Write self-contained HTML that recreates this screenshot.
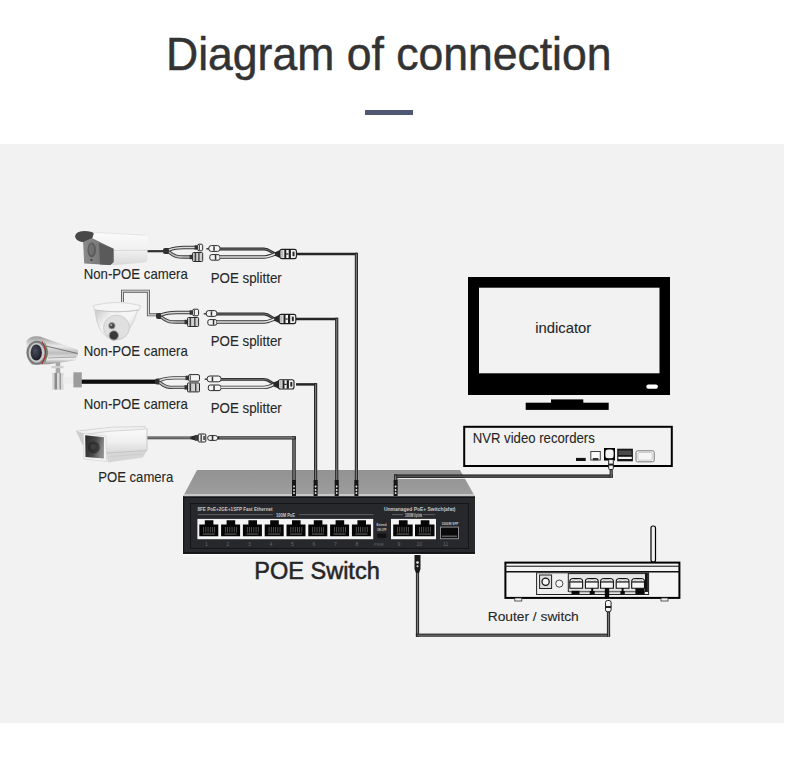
<!DOCTYPE html>
<html><head><meta charset="utf-8">
<style>
html,body{margin:0;padding:0;background:#fff;width:790px;height:759px;overflow:hidden}
svg{position:absolute;left:0;top:0;display:block}
text{font-family:"Liberation Sans",sans-serif}
</style></head>
<body>
<svg width="790" height="759" viewBox="0 0 790 759">
<defs>
  <linearGradient id="swTop" x1="0" y1="0" x2="0" y2="1">
    <stop offset="0" stop-color="#929292"/><stop offset="1" stop-color="#9e9e9e"/>
  </linearGradient>
</defs>
<rect x="0" y="0" width="790" height="759" fill="#fff"/>
<rect x="0" y="144" width="784" height="579" fill="#f2f2f2"/>

<text x="166" y="69.5" font-size="46.5" fill="#333" stroke="#333" stroke-width="0.5" textLength="445.5" lengthAdjust="spacingAndGlyphs">Diagram of connection</text>
<rect x="365" y="110" width="48" height="5" fill="#4e5873"/>
<rect x="468" y="277" width="202" height="118" fill="#000"/>
<rect x="479" y="287.7" width="180.5" height="85.6" fill="#f2f2f2"/>
<rect x="646.3" y="384.4" width="11.6" height="4.3" rx="2" fill="#fff"/>
<rect x="551" y="399.4" width="32.3" height="3.6" fill="#000"/>
<rect x="525.7" y="402.7" width="83" height="7.2" fill="#000"/>
<rect x="464.2" y="426.8" width="207.6" height="39.2" fill="none" stroke="#000" stroke-width="2"/>
<rect x="576" y="457.9" width="9.7" height="3.1" fill="#111"/>
<rect x="590.8" y="451.5" width="9.5" height="8.5" fill="#fafafa" stroke="#444" stroke-width="1"/><rect x="592.8" y="458" width="5.5" height="2.3" fill="#333"/>
<rect x="604" y="448" width="11" height="12.5" fill="#000"/>
<rect x="605.4" y="449.6" width="8.2" height="8.6" rx="2.5" fill="#f4f4f4"/>
<rect x="617.2" y="448.7" width="15.7" height="12.6" fill="#161616"/>
<rect x="618.5" y="450.5" width="13" height="4.5" fill="#4a4a4a"/>
<rect x="618.3" y="456.8" width="13.5" height="2.2" fill="#f2f2f2"/>
<rect x="636" y="450.8" width="18.2" height="11" rx="1.5" fill="#f6f6f6" stroke="#777" stroke-width="1"/>
<rect x="638" y="452.5" width="14.2" height="7.6" rx="1" fill="none" stroke="#bbb" stroke-width="0.7"/>
<polygon points="197,470 460,470 475,496.5 183,496.5" fill="url(#swTop)"/>
<rect x="184" y="494" width="290" height="2.5" fill="#c8c8c8"/>
<rect x="183" y="496.5" width="292" height="57.3" fill="#27292d"/><rect x="183" y="552.3" width="292" height="1.5" fill="#0d0e10"/><rect x="183" y="496.5" width="1.2" height="57.3" fill="#151618"/><rect x="183" y="554" width="292" height="1.5" fill="#fbfbfb"/>
<rect x="183" y="496.5" width="292" height="1.5" fill="#151618"/>
<rect x="190.5" y="503.5" width="278" height="45" fill="#26282c" stroke="#141517" stroke-width="1"/>
<rect x="197.4" y="518.9" width="175.8" height="20.3" fill="#f4f4f4"/>
<rect x="391" y="518.9" width="45" height="20.3" fill="#f4f4f4"/>
<path d="M199.3 524.6 H204.8 V520.3 H213.4 V524.6 H218.3 V536.2 H199.3 Z" fill="#050505"/><rect x="203.3" y="527" width="0.7" height="5.5" fill="#6a6a6a"/><rect x="205.5" y="527" width="0.7" height="5.5" fill="#6a6a6a"/><rect x="207.7" y="527" width="0.7" height="5.5" fill="#6a6a6a"/><rect x="209.9" y="527" width="0.7" height="5.5" fill="#6a6a6a"/><rect x="212.1" y="527" width="0.7" height="5.5" fill="#6a6a6a"/><rect x="214.3" y="527" width="0.7" height="5.5" fill="#6a6a6a"/><rect x="202.8" y="533.6" width="12.0" height="0.9" fill="#777"/>
<path d="M221.1 524.6 H226.6 V520.3 H235.2 V524.6 H240.1 V536.2 H221.1 Z" fill="#050505"/><rect x="225.1" y="527" width="0.7" height="5.5" fill="#6a6a6a"/><rect x="227.3" y="527" width="0.7" height="5.5" fill="#6a6a6a"/><rect x="229.5" y="527" width="0.7" height="5.5" fill="#6a6a6a"/><rect x="231.7" y="527" width="0.7" height="5.5" fill="#6a6a6a"/><rect x="233.9" y="527" width="0.7" height="5.5" fill="#6a6a6a"/><rect x="236.1" y="527" width="0.7" height="5.5" fill="#6a6a6a"/><rect x="224.6" y="533.6" width="12.0" height="0.9" fill="#777"/>
<path d="M242.9 524.6 H248.4 V520.3 H257.0 V524.6 H261.9 V536.2 H242.9 Z" fill="#050505"/><rect x="246.9" y="527" width="0.7" height="5.5" fill="#6a6a6a"/><rect x="249.1" y="527" width="0.7" height="5.5" fill="#6a6a6a"/><rect x="251.3" y="527" width="0.7" height="5.5" fill="#6a6a6a"/><rect x="253.5" y="527" width="0.7" height="5.5" fill="#6a6a6a"/><rect x="255.7" y="527" width="0.7" height="5.5" fill="#6a6a6a"/><rect x="257.9" y="527" width="0.7" height="5.5" fill="#6a6a6a"/><rect x="246.4" y="533.6" width="12.0" height="0.9" fill="#777"/>
<path d="M264.7 524.6 H270.2 V520.3 H278.8 V524.6 H283.7 V536.2 H264.7 Z" fill="#050505"/><rect x="268.7" y="527" width="0.7" height="5.5" fill="#6a6a6a"/><rect x="270.9" y="527" width="0.7" height="5.5" fill="#6a6a6a"/><rect x="273.1" y="527" width="0.7" height="5.5" fill="#6a6a6a"/><rect x="275.3" y="527" width="0.7" height="5.5" fill="#6a6a6a"/><rect x="277.5" y="527" width="0.7" height="5.5" fill="#6a6a6a"/><rect x="279.7" y="527" width="0.7" height="5.5" fill="#6a6a6a"/><rect x="268.2" y="533.6" width="12.0" height="0.9" fill="#777"/>
<path d="M286.5 524.6 H292.0 V520.3 H300.6 V524.6 H305.5 V536.2 H286.5 Z" fill="#050505"/><rect x="290.5" y="527" width="0.7" height="5.5" fill="#6a6a6a"/><rect x="292.7" y="527" width="0.7" height="5.5" fill="#6a6a6a"/><rect x="294.9" y="527" width="0.7" height="5.5" fill="#6a6a6a"/><rect x="297.1" y="527" width="0.7" height="5.5" fill="#6a6a6a"/><rect x="299.3" y="527" width="0.7" height="5.5" fill="#6a6a6a"/><rect x="301.5" y="527" width="0.7" height="5.5" fill="#6a6a6a"/><rect x="290.0" y="533.6" width="12.0" height="0.9" fill="#777"/>
<path d="M308.3 524.6 H313.8 V520.3 H322.4 V524.6 H327.3 V536.2 H308.3 Z" fill="#050505"/><rect x="312.3" y="527" width="0.7" height="5.5" fill="#6a6a6a"/><rect x="314.5" y="527" width="0.7" height="5.5" fill="#6a6a6a"/><rect x="316.7" y="527" width="0.7" height="5.5" fill="#6a6a6a"/><rect x="318.9" y="527" width="0.7" height="5.5" fill="#6a6a6a"/><rect x="321.1" y="527" width="0.7" height="5.5" fill="#6a6a6a"/><rect x="323.3" y="527" width="0.7" height="5.5" fill="#6a6a6a"/><rect x="311.8" y="533.6" width="12.0" height="0.9" fill="#777"/>
<path d="M330.1 524.6 H335.6 V520.3 H344.2 V524.6 H349.1 V536.2 H330.1 Z" fill="#050505"/><rect x="334.1" y="527" width="0.7" height="5.5" fill="#6a6a6a"/><rect x="336.3" y="527" width="0.7" height="5.5" fill="#6a6a6a"/><rect x="338.5" y="527" width="0.7" height="5.5" fill="#6a6a6a"/><rect x="340.7" y="527" width="0.7" height="5.5" fill="#6a6a6a"/><rect x="342.9" y="527" width="0.7" height="5.5" fill="#6a6a6a"/><rect x="345.1" y="527" width="0.7" height="5.5" fill="#6a6a6a"/><rect x="333.6" y="533.6" width="12.0" height="0.9" fill="#777"/>
<path d="M351.9 524.6 H357.4 V520.3 H366.0 V524.6 H370.9 V536.2 H351.9 Z" fill="#050505"/><rect x="355.9" y="527" width="0.7" height="5.5" fill="#6a6a6a"/><rect x="358.1" y="527" width="0.7" height="5.5" fill="#6a6a6a"/><rect x="360.3" y="527" width="0.7" height="5.5" fill="#6a6a6a"/><rect x="362.5" y="527" width="0.7" height="5.5" fill="#6a6a6a"/><rect x="364.7" y="527" width="0.7" height="5.5" fill="#6a6a6a"/><rect x="366.9" y="527" width="0.7" height="5.5" fill="#6a6a6a"/><rect x="355.4" y="533.6" width="12.0" height="0.9" fill="#777"/>
<path d="M393.2 524.6 H398.9 V520.3 H407.6 V524.6 H412.7 V536.2 H393.2 Z" fill="#050505"/><rect x="397.2" y="527" width="0.7" height="5.5" fill="#6a6a6a"/><rect x="399.4" y="527" width="0.7" height="5.5" fill="#6a6a6a"/><rect x="401.6" y="527" width="0.7" height="5.5" fill="#6a6a6a"/><rect x="403.8" y="527" width="0.7" height="5.5" fill="#6a6a6a"/><rect x="406.0" y="527" width="0.7" height="5.5" fill="#6a6a6a"/><rect x="408.2" y="527" width="0.7" height="5.5" fill="#6a6a6a"/><rect x="396.7" y="533.6" width="12.5" height="0.9" fill="#777"/>
<path d="M415.0 524.6 H420.7 V520.3 H429.4 V524.6 H434.5 V536.2 H415.0 Z" fill="#050505"/><rect x="419.0" y="527" width="0.7" height="5.5" fill="#6a6a6a"/><rect x="421.2" y="527" width="0.7" height="5.5" fill="#6a6a6a"/><rect x="423.4" y="527" width="0.7" height="5.5" fill="#6a6a6a"/><rect x="425.6" y="527" width="0.7" height="5.5" fill="#6a6a6a"/><rect x="427.8" y="527" width="0.7" height="5.5" fill="#6a6a6a"/><rect x="430.0" y="527" width="0.7" height="5.5" fill="#6a6a6a"/><rect x="418.5" y="533.6" width="12.5" height="0.9" fill="#777"/>
<rect x="440" y="526.6" width="19" height="12.6" fill="#8c8c8c"/>
<rect x="441" y="527.6" width="17" height="10.6" fill="#0a0a0a"/>
<rect x="442" y="535.5" width="15" height="1.6" fill="#5a5a5a"/>
<g fill="#c9c9c9" font-size="5.6" font-weight="bold">
<text x="197.5" y="511.3" textLength="75" lengthAdjust="spacingAndGlyphs">8FE PoE+2GE+1SFP Fast Ethernet</text>
<text x="384" y="511.3" textLength="71.5" lengthAdjust="spacingAndGlyphs">Unmanaged PoE+ Switch(afat)</text>
<text x="276" y="516.8" font-size="4.6" textLength="19" lengthAdjust="spacingAndGlyphs">100M PoE</text>
<text x="405" y="516.8" font-size="4.6" textLength="17" lengthAdjust="spacingAndGlyphs">1000M Uplink</text>
<text x="441.5" y="524.5" font-size="4" textLength="17" lengthAdjust="spacingAndGlyphs">1000M SFP</text>
<text x="376.5" y="525.5" font-size="4.2" textLength="10" lengthAdjust="spacingAndGlyphs">Extend</text>
<text x="377" y="530.5" font-size="4.2" textLength="9.5" lengthAdjust="spacingAndGlyphs">ON OFF</text>
</g>
<rect x="377.3" y="533.5" width="9" height="4.5" rx="1" fill="#111"/>
<g fill="#66686c" font-size="5">
<text x="206.5" y="546" text-anchor="middle">1</text>
<text x="228.0" y="546" text-anchor="middle">2</text>
<text x="249.5" y="546" text-anchor="middle">3</text>
<text x="271.0" y="546" text-anchor="middle">4</text>
<text x="292.5" y="546" text-anchor="middle">5</text>
<text x="314.0" y="546" text-anchor="middle">6</text>
<text x="335.5" y="546" text-anchor="middle">7</text>
<text x="357.0" y="546" text-anchor="middle">8</text>
<text x="374" y="546" font-size="4.2">PWR</text>
<text x="398.8" y="546" text-anchor="middle">9</text><text x="419.3" y="546" text-anchor="middle">10</text><text x="445.7" y="546" text-anchor="middle">11</text>
</g>
<g stroke="#6a6c70" stroke-width="0.8">
<path d="M198 514.6 H273 M299 514.6 H373.5 M392 514.6 H403 M423 514.6 H435"/>
</g>
<rect x="505.4" y="562.6" width="174" height="35.3" fill="#f4f4f4" stroke="#000" stroke-width="2"/>
<rect x="505" y="565.7" width="175" height="1.1" fill="#222"/>
<rect x="505" y="571" width="175" height="1.5" fill="#111"/>
<rect x="514.8" y="598" width="7" height="3" fill="#f8f8f8" stroke="#333" stroke-width="0.8"/>
<rect x="661" y="598" width="7" height="3" fill="#f8f8f8" stroke="#333" stroke-width="0.8"/>
<rect x="536.6" y="572.8" width="112" height="21.7" fill="#f0f0f0" stroke="#222" stroke-width="1"/>
<rect x="539.6" y="575" width="12" height="13.5" fill="#ddd" stroke="#222" stroke-width="1"/>
<circle cx="545.6" cy="581.8" r="3.6" fill="#f6f6f6" stroke="#111" stroke-width="1.2"/>
<circle cx="559.3" cy="583.6" r="3.6" fill="#f6f6f6" stroke="#333" stroke-width="0.9"/>
<rect x="568.3" y="573.6" width="79.5" height="17.8" fill="#e6e6e6" stroke="#222" stroke-width="1"/>
<path d="M569.8 588.3 V581.5 Q569.8 578.5 573.3 578.5 H579.1 Q582.6 578.5 582.6 581.5 V588.3 Z" fill="#f6f6f6" stroke="#111" stroke-width="1.1"/>
<rect x="569.8" y="581.3" width="12.8" height="1.3" fill="#222"/>
<path d="M572.3 580.3 Q576.2 579 580.1 580.3" stroke="#888" stroke-width="0.7" fill="none"/>
<path d="M585.4 588.3 V581.5 Q585.4 578.5 588.9 578.5 H594.7 Q598.2 578.5 598.2 581.5 V588.3 Z" fill="#f6f6f6" stroke="#111" stroke-width="1.1"/>
<rect x="585.4" y="581.3" width="12.8" height="1.3" fill="#222"/>
<path d="M587.9 580.3 Q591.8 579 595.7 580.3" stroke="#888" stroke-width="0.7" fill="none"/>
<path d="M600.6 588.3 V581.5 Q600.6 578.5 604.1 578.5 H609.9 Q613.4 578.5 613.4 581.5 V588.3 Z" fill="#f6f6f6" stroke="#111" stroke-width="1.1"/>
<rect x="600.6" y="581.3" width="12.8" height="1.3" fill="#222"/>
<path d="M603.1 580.3 Q607.0 579 610.9 580.3" stroke="#888" stroke-width="0.7" fill="none"/>
<path d="M616.2 588.3 V581.5 Q616.2 578.5 619.7 578.5 H625.5 Q629.0 578.5 629.0 581.5 V588.3 Z" fill="#f6f6f6" stroke="#111" stroke-width="1.1"/>
<rect x="616.2" y="581.3" width="12.8" height="1.3" fill="#222"/>
<path d="M618.7 580.3 Q622.6 579 626.5 580.3" stroke="#888" stroke-width="0.7" fill="none"/>
<path d="M631.7 588.3 V581.5 Q631.7 578.5 635.2 578.5 H641.0 Q644.5 578.5 644.5 581.5 V588.3 Z" fill="#f6f6f6" stroke="#111" stroke-width="1.1"/>
<rect x="631.7" y="581.3" width="12.8" height="1.3" fill="#222"/>
<path d="M634.2 580.3 Q638.1 579 642.0 580.3" stroke="#888" stroke-width="0.7" fill="none"/>
<rect x="569" y="591.6" width="76" height="1.6" fill="#bdbdbd"/>
<rect x="571.5" y="590.8" width="8" height="3.5" fill="#0a0a0a"/>
<rect x="589.7" y="591" width="5" height="3.3" fill="#0a0a0a"/><rect x="591.2" y="588" width="2" height="3.3" fill="#0a0a0a"/>
<rect x="604.8" y="588" width="4.4" height="9" fill="#0a0a0a"/>
<rect x="620.4" y="591" width="4.4" height="3.3" fill="#0a0a0a"/><rect x="621.6" y="588" width="2" height="3.3" fill="#0a0a0a"/>
<rect x="635.4" y="588.3" width="9.2" height="6" fill="#0a0a0a"/>
<rect x="645" y="573.5" width="2.6" height="18" fill="#111"/>
<rect x="651" y="526" width="4.5" height="36" rx="2" fill="none" stroke="#000" stroke-width="1.2"/>
<g fill="none" stroke="#262626" stroke-width="2.5">
<path d="M296 254 H357.5"/>
<path d="M296 319 H337.8"/>
<path d="M296 384.4 H316.8"/>
</g>
<rect x="354.8" y="252.8" width="3.2" height="237.2" fill="#2a2a2a"/><rect x="355.85" y="254.0" width="1.10" height="236.0" fill="#7c7c7c"/>
<rect x="335.1" y="317.8" width="3.2" height="172.2" fill="#2a2a2a"/><rect x="336.15" y="319.0" width="1.10" height="171.0" fill="#7c7c7c"/>
<rect x="314.0" y="383.2" width="3.2" height="106.80000000000001" fill="#2a2a2a"/><rect x="315.05" y="384.4" width="1.10" height="105.6" fill="#7c7c7c"/>
<rect x="292.2" y="436.3" width="3.6" height="53.69999999999999" fill="#2a2a2a"/><rect x="293.25" y="437.5" width="1.50" height="52.5" fill="#7c7c7c"/>
<rect x="218" y="436.3" width="77.80000000000001" height="3.2" fill="#222"/><rect x="219.2" y="437.35" width="75.4" height="1.10" fill="#9a9a9a"/>
<rect x="394" y="474.5" width="218.79999999999995" height="3.3" fill="#111"/><rect x="395.2" y="475.55" width="216.4" height="1.20" fill="#6a6a6a"/>
<rect x="609.6" y="468" width="3.2" height="9.800000000000011" fill="#2a2a2a"/><rect x="610.65" y="469.2" width="1.10" height="8.6" fill="#7c7c7c"/>
<rect x="394" y="474.5" width="3.2" height="15.5" fill="#2a2a2a"/><rect x="395.05" y="475.7" width="1.10" height="14.3" fill="#7c7c7c"/>
<rect x="415.9" y="570" width="3.2" height="66.70000000000005" fill="#2a2a2a"/><rect x="416.95" y="571.2" width="1.10" height="65.5" fill="#7c7c7c"/>
<rect x="415.9" y="633.6" width="194.20000000000005" height="3.1" fill="#222"/><rect x="417.09999999999997" y="634.65" width="191.8" height="1.00" fill="#7c7c7c"/>
<rect x="606.9" y="611" width="3.2" height="25.700000000000045" fill="#2a2a2a"/><rect x="607.95" y="612.2" width="1.10" height="24.5" fill="#7c7c7c"/>
<path d="M398 478.5 H609" stroke="#fbfbfb" stroke-width="0.8"/>
<rect x="608.7" y="459.5" width="4.6" height="10" rx="1" fill="#f4f4f4" stroke="#222" stroke-width="1"/><rect x="608.7" y="463.6" width="4.6" height="2" fill="#222"/>
<rect x="605.5" y="600.5" width="5.6" height="11.3" rx="2" fill="#f4f4f4" stroke="#222" stroke-width="1"/><rect x="605.5" y="606" width="5.6" height="2" fill="#222"/>
<path d="M414.5 555 H420.5 V569 L419 573 H416 L414.5 569 Z" fill="#1a1a1a"/><circle cx="417.5" cy="562.5" r="1.3" fill="#eee"/><circle cx="417.5" cy="566.3" r="1" fill="#ddd"/>
<rect x="292.0" y="480" width="4" height="16" fill="#161616"/><circle cx="294.0" cy="486.5" r="0.9" fill="#e8e8e8"/><circle cx="294.0" cy="490" r="0.9" fill="#e8e8e8"/><circle cx="294.0" cy="493" r="0.9" fill="#e8e8e8"/>
<rect x="313.6" y="480" width="4" height="16" fill="#161616"/><circle cx="315.6" cy="486.5" r="0.9" fill="#e8e8e8"/><circle cx="315.6" cy="490" r="0.9" fill="#e8e8e8"/><circle cx="315.6" cy="493" r="0.9" fill="#e8e8e8"/>
<rect x="334.7" y="480" width="4" height="16" fill="#161616"/><circle cx="336.7" cy="486.5" r="0.9" fill="#e8e8e8"/><circle cx="336.7" cy="490" r="0.9" fill="#e8e8e8"/><circle cx="336.7" cy="493" r="0.9" fill="#e8e8e8"/>
<rect x="354.4" y="480" width="4" height="16" fill="#161616"/><circle cx="356.4" cy="486.5" r="0.9" fill="#e8e8e8"/><circle cx="356.4" cy="490" r="0.9" fill="#e8e8e8"/><circle cx="356.4" cy="493" r="0.9" fill="#e8e8e8"/>
<rect x="393.6" y="480" width="4" height="16" fill="#161616"/><circle cx="395.6" cy="486.5" r="0.9" fill="#e8e8e8"/><circle cx="395.6" cy="490" r="0.9" fill="#e8e8e8"/><circle cx="395.6" cy="493" r="0.9" fill="#e8e8e8"/>
<defs><linearGradient id="bodyW" x1="0" y1="0" x2="0" y2="1"><stop offset="0" stop-color="#fbfbfb"/><stop offset="0.55" stop-color="#f0f0f0"/><stop offset="1" stop-color="#d9d9d9"/></linearGradient><linearGradient id="metal" x1="0" y1="0" x2="0" y2="1"><stop offset="0" stop-color="#9a9a9a"/><stop offset="0.35" stop-color="#e9e9e9"/><stop offset="0.6" stop-color="#bdbdbd"/><stop offset="0.8" stop-color="#f0f0f0"/><stop offset="1" stop-color="#8a8a8a"/></linearGradient><radialGradient id="lens" cx="0.4" cy="0.4" r="0.7"><stop offset="0" stop-color="#4a4d60"/><stop offset="1" stop-color="#15171f"/></radialGradient><linearGradient id="domeG" x1="0" y1="0" x2="1" y2="0.6"><stop offset="0" stop-color="#c8c8c8"/><stop offset="0.35" stop-color="#f2f2f2"/><stop offset="0.7" stop-color="#f6f6f6"/><stop offset="1" stop-color="#cfcfcf"/></linearGradient></defs>
<path d="M146 251.2 H164" fill="none" stroke="#2f2f2f" stroke-width="2.2" stroke-linejoin="miter"/>
<path d="M122.5 302 V291.2 H148.4 V314.8 H157" fill="none" stroke="#5a5a5a" stroke-width="3" stroke-linejoin="miter"/><path d="M122.5 302 V291.2 H148.4 V314.8 H157" fill="none" stroke="#dadada" stroke-width="1.20"/>
<rect x="80" y="379.6" width="76" height="4.2" fill="#0c0c0c"/>
<path d="M147 437.9 H191" fill="none" stroke="#333" stroke-width="2.6" stroke-linejoin="miter"/><path d="M147 437.9 H191" fill="none" stroke="#bbb" stroke-width="0.80"/>
<path d="M190.5 436.6 L195.5 435.3 V440.5 L190.5 439.2 Z" fill="#2a2a2a"/>
<rect x="195" y="435" width="4" height="5.8" fill="#3a3a3a"/>
<rect x="198.2" y="434" width="7.6" height="8" rx="1" fill="#ececec" stroke="#2a2a2a" stroke-width="1"/>
<rect x="200.5" y="434.5" width="1.4" height="7" fill="#444"/><rect x="203.3" y="436" width="1.6" height="4" fill="#444"/>
<rect x="207.7" y="435.6" width="10" height="4.8" rx="2.2" fill="#f4f4f4" stroke="#2a2a2a" stroke-width="1"/>
<rect x="211.7" y="435.8" width="1.6" height="4.4" fill="#333"/>
<rect x="163" y="248" width="7" height="6" rx="2" fill="#303030"/><path d="M169 250 C175 247.5 178 247.5 184 247.5 H196.6" fill="none" stroke="#3a3a3a" stroke-width="3.4" stroke-linejoin="miter"/><path d="M169 250 C175 247.5 178 247.5 184 247.5 H196.6" fill="none" stroke="#d9d9d9" stroke-width="1.60"/><path d="M169 252 C175 257 178 257 184 257 H191.6" fill="none" stroke="#3a3a3a" stroke-width="3.4" stroke-linejoin="miter"/><path d="M169 252 C175 257 178 257 184 257 H191.6" fill="none" stroke="#bdbdbd" stroke-width="1.60"/><rect x="194.6" y="245.3" width="3" height="4.4" fill="#333"/><rect x="197.6" y="244.2" width="5.099999999999994" height="6.6" rx="1.5" fill="#f2f2f2" stroke="#2a2a2a" stroke-width="1"/><rect x="198.79999999999998" y="244.9" width="1.2" height="5.2" fill="#555"/><rect x="189.6" y="254.8" width="3" height="4.4" fill="#333"/><rect x="192.6" y="252.5" width="10.099999999999994" height="9" rx="1" fill="#cfcfcf" stroke="#2a2a2a" stroke-width="1"/><rect x="194.6" y="253" width="1.6" height="8" fill="#444"/><rect x="198.2" y="253" width="1.4" height="8" fill="#444"/><rect x="206.3" y="248.1" width="3" height="1.4" fill="#333"/><rect x="208.8" y="245.60000000000002" width="11.199999999999989" height="5.8" rx="2.5" fill="#f4f4f4" stroke="#2a2a2a" stroke-width="1"/><rect x="213.3" y="246.3" width="1.5" height="4.4" fill="#333"/><rect x="209.8" y="254.6" width="10.199999999999989" height="5.6" rx="2" fill="#f4f4f4" stroke="#2a2a2a" stroke-width="1"/><rect x="214.8" y="255" width="1.5" height="4.8" fill="#333"/><path d="M220 249 H264 C270 249 272 254 277 254" fill="none" stroke="#2a2a2a" stroke-width="2.8" stroke-linejoin="miter"/><path d="M220 249 H264 C270 249 272 254 277 254" fill="none" stroke="#707070" stroke-width="1.00"/><path d="M220 257 H264 C270 257 272 254 277 254" fill="none" stroke="#333" stroke-width="3.4" stroke-linejoin="miter"/><path d="M220 257 H264 C270 257 272 254 277 254" fill="none" stroke="#e4e4e4" stroke-width="1.60"/><path d="M275 252.2 L280 250 V258 L275 255.8 Z" fill="#2a2a2a"/><rect x="280" y="249.4" width="16.399999999999977" height="9.2" rx="2" fill="#f5f5f5" stroke="#1e1e1e" stroke-width="1.1"/><rect x="280.8" y="250.2" width="2.6" height="7.6" fill="#bdbdbd"/><rect x="284.3" y="249.8" width="2" height="8.4" fill="#1e1e1e"/><rect x="288.7" y="249.8" width="2.2" height="8.4" fill="#1e1e1e"/><rect x="286.2" y="253.4" width="2.2" height="1.2" fill="#1e1e1e"/><rect x="292.5" y="251.6" width="2" height="4.6" fill="#2a2a2a"/>
<rect x="156" y="313" width="6.199999999999989" height="6" rx="2" fill="#303030"/><path d="M161.2 315 C167.2 312.5 170.2 312.5 176.2 312.5 H191.6" fill="none" stroke="#3a3a3a" stroke-width="3.4" stroke-linejoin="miter"/><path d="M161.2 315 C167.2 312.5 170.2 312.5 176.2 312.5 H191.6" fill="none" stroke="#d9d9d9" stroke-width="1.60"/><path d="M161.2 317 C167.2 322 170.2 322 176.2 322 H186.5" fill="none" stroke="#3a3a3a" stroke-width="3.4" stroke-linejoin="miter"/><path d="M161.2 317 C167.2 322 170.2 322 176.2 322 H186.5" fill="none" stroke="#bdbdbd" stroke-width="1.60"/><rect x="189.6" y="310.3" width="3" height="4.4" fill="#333"/><rect x="192.6" y="309.2" width="6.0" height="6.6" rx="1.5" fill="#f2f2f2" stroke="#2a2a2a" stroke-width="1"/><rect x="193.79999999999998" y="309.9" width="1.2" height="5.2" fill="#555"/><rect x="184.5" y="319.8" width="3" height="4.4" fill="#333"/><rect x="187.5" y="317.5" width="11.099999999999994" height="9" rx="1" fill="#cfcfcf" stroke="#2a2a2a" stroke-width="1"/><rect x="189.5" y="318" width="1.6" height="8" fill="#444"/><rect x="194.1" y="318" width="1.4" height="8" fill="#444"/><rect x="203.7" y="313.1" width="3" height="1.4" fill="#333"/><rect x="206.2" y="310.6" width="10.700000000000017" height="5.8" rx="2.5" fill="#f4f4f4" stroke="#2a2a2a" stroke-width="1"/><rect x="210.7" y="311.3" width="1.5" height="4.4" fill="#333"/><rect x="207.8" y="319.6" width="9.099999999999994" height="5.6" rx="2" fill="#f4f4f4" stroke="#2a2a2a" stroke-width="1"/><rect x="212.8" y="320" width="1.5" height="4.8" fill="#333"/><path d="M216.9 314 H264 C270 314 272 319 276.2 319" fill="none" stroke="#2a2a2a" stroke-width="2.8" stroke-linejoin="miter"/><path d="M216.9 314 H264 C270 314 272 319 276.2 319" fill="none" stroke="#707070" stroke-width="1.00"/><path d="M216.9 322 H264 C270 322 272 319 276.2 319" fill="none" stroke="#333" stroke-width="3.4" stroke-linejoin="miter"/><path d="M216.9 322 H264 C270 322 272 319 276.2 319" fill="none" stroke="#e4e4e4" stroke-width="1.60"/><path d="M274.2 317.2 L279.2 315 V323 L274.2 320.8 Z" fill="#2a2a2a"/><rect x="279.2" y="314.4" width="16.600000000000023" height="9.2" rx="2" fill="#f5f5f5" stroke="#1e1e1e" stroke-width="1.1"/><rect x="280.0" y="315.2" width="2.6" height="7.6" fill="#bdbdbd"/><rect x="283.5" y="314.8" width="2" height="8.4" fill="#1e1e1e"/><rect x="288.0" y="314.8" width="2.2" height="8.4" fill="#1e1e1e"/><rect x="285.5" y="318.4" width="2.2" height="1.2" fill="#1e1e1e"/><rect x="291.8" y="316.6" width="2" height="4.6" fill="#2a2a2a"/>
<rect x="155" y="378.4" width="5.5" height="6" rx="2" fill="#303030"/><path d="M159.5 380.4 C165.5 377.9 168.5 377.9 174.5 377.9 H187.5" fill="none" stroke="#3a3a3a" stroke-width="3.4" stroke-linejoin="miter"/><path d="M159.5 380.4 C165.5 377.9 168.5 377.9 174.5 377.9 H187.5" fill="none" stroke="#d9d9d9" stroke-width="1.60"/><path d="M159.5 382.4 C165.5 387.4 168.5 387.4 174.5 387.4 H186.5" fill="none" stroke="#3a3a3a" stroke-width="3.4" stroke-linejoin="miter"/><path d="M159.5 382.4 C165.5 387.4 168.5 387.4 174.5 387.4 H186.5" fill="none" stroke="#bdbdbd" stroke-width="1.60"/><rect x="185.5" y="375.7" width="3" height="4.4" fill="#333"/><rect x="188.5" y="374.59999999999997" width="11.0" height="6.6" rx="1.5" fill="#f2f2f2" stroke="#2a2a2a" stroke-width="1"/><rect x="189.7" y="375.29999999999995" width="1.2" height="5.2" fill="#555"/><rect x="184.5" y="385.2" width="3" height="4.4" fill="#333"/><rect x="187.5" y="382.9" width="12.0" height="9" rx="1" fill="#cfcfcf" stroke="#2a2a2a" stroke-width="1"/><rect x="189.5" y="383.4" width="1.6" height="8" fill="#444"/><rect x="195.0" y="383.4" width="1.4" height="8" fill="#444"/><rect x="204.7" y="378.5" width="3" height="1.4" fill="#333"/><rect x="207.2" y="376.0" width="13.800000000000011" height="5.8" rx="2.5" fill="#f4f4f4" stroke="#2a2a2a" stroke-width="1"/><rect x="211.7" y="376.7" width="1.5" height="4.4" fill="#333"/><rect x="208.3" y="385.0" width="12.699999999999989" height="5.6" rx="2" fill="#f4f4f4" stroke="#2a2a2a" stroke-width="1"/><rect x="213.3" y="385.4" width="1.5" height="4.8" fill="#333"/><path d="M221 379.4 H264 C270 379.4 272 384.4 275.4 384.4" fill="none" stroke="#2a2a2a" stroke-width="2.8" stroke-linejoin="miter"/><path d="M221 379.4 H264 C270 379.4 272 384.4 275.4 384.4" fill="none" stroke="#707070" stroke-width="1.00"/><path d="M221 387.4 H264 C270 387.4 272 384.4 275.4 384.4" fill="none" stroke="#333" stroke-width="3.4" stroke-linejoin="miter"/><path d="M221 387.4 H264 C270 387.4 272 384.4 275.4 384.4" fill="none" stroke="#e4e4e4" stroke-width="1.60"/><path d="M273.4 382.59999999999997 L278.4 380.4 V388.4 L273.4 386.2 Z" fill="#2a2a2a"/><rect x="278.4" y="379.79999999999995" width="15.600000000000023" height="9.2" rx="2" fill="#f5f5f5" stroke="#1e1e1e" stroke-width="1.1"/><rect x="279.2" y="380.59999999999997" width="2.6" height="7.6" fill="#bdbdbd"/><rect x="282.5" y="380.2" width="2" height="8.4" fill="#1e1e1e"/><rect x="286.7" y="380.2" width="2.2" height="8.4" fill="#1e1e1e"/><rect x="284.3" y="383.79999999999995" width="2.2" height="1.2" fill="#1e1e1e"/><rect x="290.3" y="382.0" width="2" height="4.6" fill="#2a2a2a"/>
<defs><linearGradient id="face1" x1="0" y1="0" x2="1" y2="0"><stop offset="0" stop-color="#8a8a8a"/><stop offset="1" stop-color="#6a6a6a"/></linearGradient><linearGradient id="lensbox" x1="0" y1="0" x2="1" y2="0.3"><stop offset="0" stop-color="#2a2a2a"/><stop offset="0.6" stop-color="#4a4a4a"/><stop offset="1" stop-color="#8a8a8a"/></linearGradient></defs>
<path d="M92.3 232 L145 235 Q147.5 235.5 147.5 238 V259 Q147.5 262 144.5 262.5 L113.5 265.2 L92.3 250 Z" fill="url(#bodyW)"/>
<path d="M113.5 250.5 L147.5 250.2" stroke="#d6d6d6" stroke-width="0.9"/>
<path d="M92.3 232.2 L145 235.2" stroke="#e0e0e0" stroke-width="0.8"/>
<path d="M83.1 242.2 L92.3 238.2 L113.5 248.8 V262 L110.5 265 L84.2 263.5 Z" fill="url(#face1)"/>
<path d="M99 243 L113.5 248.8 V262 L110.5 265 L100 264.5 Z" fill="#5a5a5a"/>
<path d="M75 236.5 Q75.5 231.2 84 231 Q92.5 231 93.8 233.5 L92.3 238.2 L83.1 242.2 Q76 241.2 75 236.5 Z" fill="#484848"/>
<ellipse cx="91.7" cy="250" rx="4.3" ry="7.6" fill="#5c5c5c"/>
<ellipse cx="91.4" cy="249.5" rx="2.7" ry="5.6" fill="#707070"/>
<circle cx="91.5" cy="260" r="1.1" fill="#3a3a3a"/>
<path d="M95 310 Q96.5 334 113.5 341 Q130.5 336 137.8 310 Z" fill="url(#domeG)" stroke="#cdcdcd" stroke-width="0.8"/>
<path d="M93.3 305.5 Q117 299.5 140.4 305.5 L139.2 310 Q117 313.5 94.8 310 Z" fill="#f5f5f5" stroke="#d2d2d2" stroke-width="0.8"/>
<path d="M94.5 310 Q117 313.5 139.2 310" stroke="#c4c4c4" stroke-width="0.9" fill="none"/>
<ellipse cx="116.5" cy="327.5" rx="13" ry="12.3" fill="#e0e0e0" stroke="#c6c6c6" stroke-width="0.8"/>
<circle cx="111.9" cy="325.8" r="3.2" fill="#4a4a4a" stroke="#a0a0a0" stroke-width="0.8"/>
<circle cx="111.2" cy="325" r="1.1" fill="#aaa"/>
<circle cx="113.8" cy="335.4" r="4.6" fill="#3a3a3a" stroke="#9a9a9a" stroke-width="0.8"/>
<rect x="52" y="372.7" width="11.6" height="17" fill="#d9d9d9"/>
<rect x="54.5" y="373" width="2.5" height="16.5" fill="#8a8a8a"/>
<rect x="59.5" y="373" width="1.5" height="16.5" fill="#9a9a9a"/>
<rect x="63" y="377" width="12" height="7.3" fill="#ededed"/>
<rect x="73.4" y="372.3" width="8.4" height="15.1" fill="#9c9c9c"/>
<rect x="55.7" y="362" width="4.5" height="11" fill="#a8a8a8"/>
<rect x="51.5" y="366" width="12" height="2.2" fill="#cfcfcf"/>
<path d="M26.5 341 Q30 335 40 336.5 L77.8 349.7 Q79 355 76 360.3 L48.6 364.3 L32 364.5 Q26.5 360 26.5 350 Z" fill="url(#metal)"/>
<path d="M46 346 L77.5 353.5" stroke="#6a6a6a" stroke-width="0.9"/>
<path d="M48 358 L76 357" stroke="#8a8a8a" stroke-width="0.7"/>
<ellipse cx="37" cy="352.8" rx="10.5" ry="12" fill="#7a7a7a"/>
<path d="M42 341.5 Q49 352 42 364" stroke="#b02a2a" stroke-width="1.2" fill="none"/>
<path d="M44.5 342.5 Q50.5 352 44.5 363" stroke="#3a7a4a" stroke-width="0.7" fill="none"/>
<ellipse cx="36.6" cy="352.8" rx="8" ry="10" fill="#c8c8c8"/>
<ellipse cx="36.3" cy="352.5" rx="5.6" ry="8" fill="url(#lens)"/>
<path d="M104 428 L145.4 426.6 L147 428 V450.4 L106 453 Z" fill="url(#bodyW)"/>
<path d="M147 428 V450.4" stroke="#c8c8c8" stroke-width="1"/>
<path d="M106 453 L147 450.4 L143 457.5 L108 462.6 Z" fill="#d6d6d6"/>
<path d="M106 453 L147 450.4" stroke="#bcbcbc" stroke-width="0.8"/>
<path d="M110 456.5 L143 454" stroke="#c4c4c4" stroke-width="0.6"/>
<path d="M76.1 431.2 L112.5 427.1 L145.4 426.6 V429.2 L110 431.2 L85 434.2 Z" fill="#f1f1f1" stroke="#c2c2c2" stroke-width="0.6"/>
<path d="M76.1 431.2 L85 434.2 L86 446.5 L82.2 444.3 Z" fill="#cdcdcd"/>
<path d="M83.2 433.2 L106 436 L106.5 461.5 L84 459 Z" fill="#f3f3f3" stroke="#cfcfcf" stroke-width="0.6"/>
<path d="M85.2 435.2 L104 437.2 L103.8 458.5 L85.5 457 Z" fill="url(#lensbox)"/>
<circle cx="93.8" cy="447.4" r="6" fill="#222" opacity="0.6"/>
<circle cx="93.3" cy="446.8" r="2.8" fill="#3e3e3e"/>
<g fill="#262626" stroke="#262626" stroke-width="0.1">
<text x="83.7" y="279" font-size="14.5" textLength="104.1" lengthAdjust="spacingAndGlyphs">Non-POE camera</text>
<text x="83.7" y="356.2" font-size="14.5" textLength="104.1" lengthAdjust="spacingAndGlyphs">Non-POE camera</text>
<text x="83.7" y="408.6" font-size="14.5" textLength="104.1" lengthAdjust="spacingAndGlyphs">Non-POE camera</text>
<text x="210.7" y="282.6" font-size="13.8" textLength="71.1" lengthAdjust="spacingAndGlyphs">POE splitter</text>
<text x="210.7" y="345.9" font-size="13.8" textLength="71.1" lengthAdjust="spacingAndGlyphs">POE splitter</text>
<text x="210.7" y="413" font-size="13.8" textLength="71.1" lengthAdjust="spacingAndGlyphs">POE splitter</text>
<text x="98.2" y="482.2" font-size="15" textLength="75.1" lengthAdjust="spacingAndGlyphs">POE camera</text>
<text x="254.2" y="578.8" stroke-width="0.55" font-size="24.7" textLength="125.6" lengthAdjust="spacingAndGlyphs">POE Switch</text>
<text x="487.7" y="620.9" font-size="13.2" textLength="91.1" lengthAdjust="spacingAndGlyphs">Router / switch</text>
<text x="472.7" y="442.7" font-size="14.8" textLength="122.1" lengthAdjust="spacingAndGlyphs">NVR video recorders</text>
<text x="535.2" y="333.4" font-size="15" textLength="56.1" lengthAdjust="spacingAndGlyphs">indicator</text>
</g>
</svg>
</body></html>
